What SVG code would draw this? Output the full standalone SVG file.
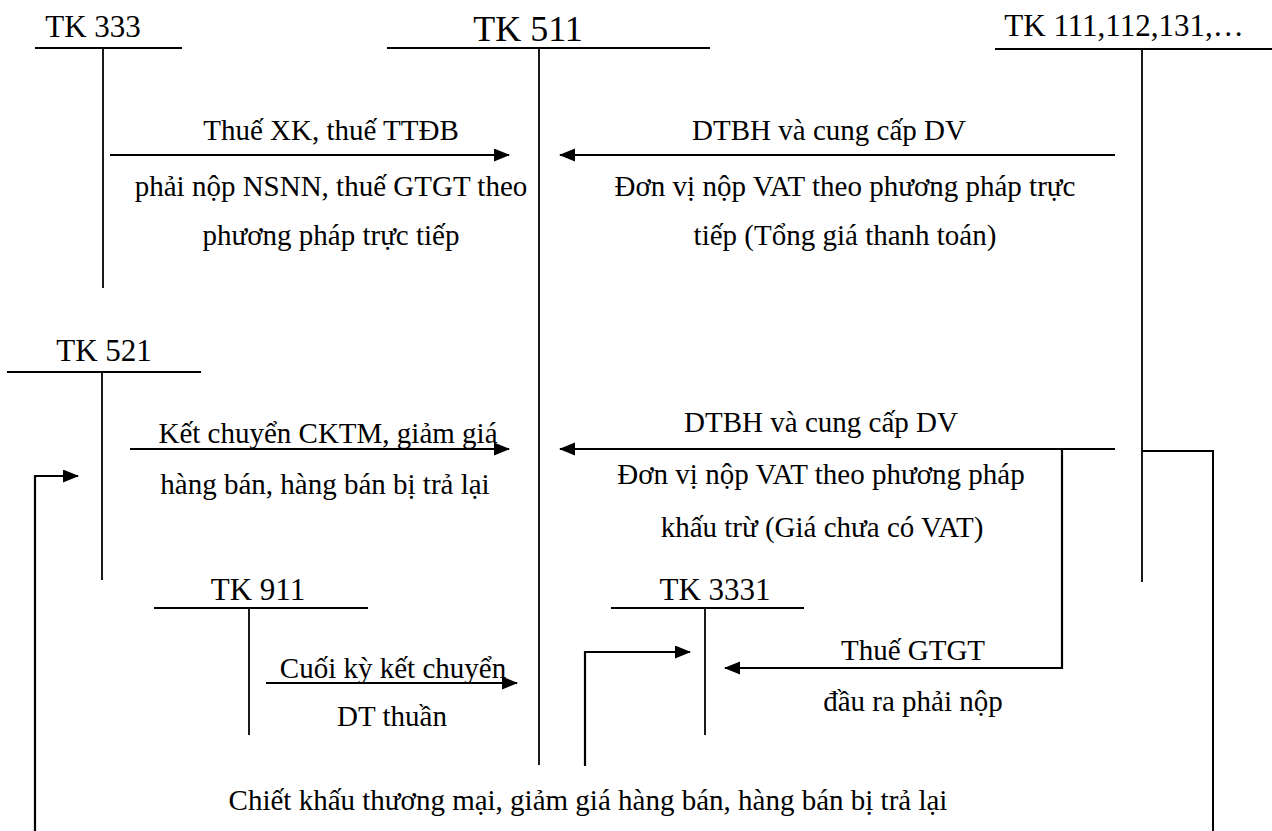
<svg xmlns="http://www.w3.org/2000/svg" width="1272" height="831" viewBox="0 0 1272 831">
<style>
text{font-family:"Liberation Serif","Times New Roman",serif;fill:#000;text-anchor:middle}
.lbl{font-size:29px}
.tk{font-size:31px}
.tkb{font-size:36px}
.hl{stroke:#000;stroke-width:2.2;fill:none}
.vl{stroke:#000;stroke-width:1.8;fill:none}
.ar{stroke:#000;stroke-width:2.2;fill:none;marker-end:url(#ah)}
.cn{stroke:#000;stroke-width:2;fill:none}
</style>
<defs>
<marker id="ah" markerUnits="userSpaceOnUse" markerWidth="16" markerHeight="14" refX="15" refY="6.5" orient="auto">
<path d="M0,0 L16,6.5 L0,13 z" fill="#000"/>
</marker>
</defs>
<rect width="1272" height="831" fill="#fff"/>

<g id="tk333">
<text class="tk" x="93" y="37">TK 333</text>
<line class="hl" x1="35" y1="48" x2="182" y2="48"/>
<line class="vl" x1="103" y1="48" x2="103" y2="288"/>
</g>
<g id="tk511">
<text class="tkb" x="528" y="41">TK 511</text>
<line class="hl" x1="387" y1="48" x2="710" y2="48"/>
<line class="vl" x1="539" y1="48" x2="539" y2="765"/>
</g>
<g id="tk111">
<text class="tk" x="1124" y="36">TK 111,112,131,…</text>
<line class="hl" x1="995" y1="49" x2="1272" y2="49"/>
<line class="vl" x1="1142" y1="49" x2="1142" y2="582"/>
</g>
<g id="tk521">
<text class="tk" x="104" y="361">TK 521</text>
<line class="hl" x1="7" y1="372" x2="201" y2="372"/>
<line class="vl" x1="102" y1="372" x2="102" y2="580"/>
</g>
<g id="tk911">
<text class="tk" x="258" y="600">TK 911</text>
<line class="hl" x1="154" y1="608" x2="368" y2="608"/>
<line class="vl" x1="249" y1="608" x2="249" y2="735"/>
</g>
<g id="tk3331">
<text class="tk" x="715" y="600">TK 3331</text>
<line class="hl" x1="611" y1="608" x2="804" y2="608"/>
<line class="vl" x1="705" y1="608" x2="705" y2="735"/>
</g>

<g id="connectors">
<line class="ar" x1="110" y1="155" x2="509" y2="155"/>
<line class="ar" x1="1115" y1="155" x2="560" y2="155"/>
<line class="ar" x1="130" y1="449" x2="509" y2="449"/>
<line class="ar" x1="1115" y1="449" x2="560" y2="449"/>
<polyline class="ar" points="1062,449 1062,668 725,668"/>
<line class="ar" x1="266" y1="683" x2="517" y2="683"/>
<polyline class="ar" points="585,766 585,652 690,652"/>
<polyline class="ar" points="35,831 35,476 78,476"/>
<polyline class="cn" points="1142,451 1213,451 1213,831"/>
</g>

<g id="labels">
<text class="lbl" x="331" y="140">Thuế XK, thuế TTĐB</text>
<text class="lbl" x="331" y="196">phải nộp NSNN, thuế GTGT theo</text>
<text class="lbl" x="331" y="245">phương pháp trực tiếp</text>
<text class="lbl" x="829" y="140">DTBH và cung cấp DV</text>
<text class="lbl" x="845" y="196">Đơn vị nộp VAT theo phương pháp trực</text>
<text class="lbl" x="845" y="245">tiếp (Tổng giá thanh toán)</text>
<text class="lbl" x="328" y="443">Kết chuyển CKTM, giảm giá</text>
<text class="lbl" x="325" y="494">hàng bán, hàng bán bị trả lại</text>
<text class="lbl" x="821" y="432">DTBH và cung cấp DV</text>
<text class="lbl" x="821" y="484">Đơn vị nộp VAT theo phương pháp</text>
<text class="lbl" x="822" y="537">khấu trừ (Giá chưa có VAT)</text>
<text class="lbl" x="393" y="678">Cuối kỳ kết chuyển</text>
<text class="lbl" x="392" y="726">DT thuần</text>
<text class="lbl" x="913" y="660">Thuế GTGT</text>
<text class="lbl" x="913" y="711">đầu ra phải nộp</text>
<text class="lbl" x="588" y="810">Chiết khấu thương mại, giảm giá hàng bán, hàng bán bị trả lại</text>
</g>
</svg>
